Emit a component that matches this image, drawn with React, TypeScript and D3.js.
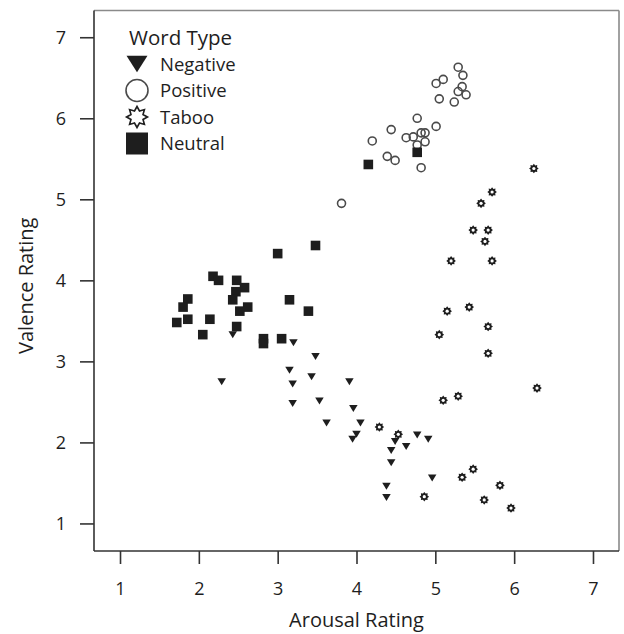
import React, { useEffect, useRef } from 'react';
import * as d3 from 'd3';

// ---- data (arousal, valence) ----
const xTicks = [1, 2, 3, 4, 5, 6, 7];
const yTicks = [1, 2, 3, 4, 5, 6, 7];

const negative: [number, number][] = [
  [2.43, 3.33], [3.2, 3.23], [3.48, 3.06], [3.15, 2.89], [3.43, 2.81],
  [2.29, 2.75], [3.91, 2.75], [3.19, 2.72], [3.19, 2.48], [3.53, 2.51],
  [3.96, 2.42], [3.62, 2.24], [4.05, 2.24], [4.0, 2.1], [3.95, 2.04],
  [4.77, 2.09], [4.91, 2.04], [4.49, 2.01], [4.63, 1.95], [4.44, 1.9],
  [4.44, 1.75], [4.96, 1.56], [4.38, 1.46], [4.38, 1.32],
];

const positive: [number, number][] = [
  [5.29, 6.63], [5.35, 6.53], [5.1, 6.48], [5.01, 6.43], [5.34, 6.39],
  [5.29, 6.33], [5.39, 6.29], [5.05, 6.24], [5.24, 6.2], [4.77, 6.0],
  [5.01, 5.9], [4.44, 5.86], [4.63, 5.76], [4.72, 5.77], [4.82, 5.82],
  [4.87, 5.82], [4.87, 5.71], [4.77, 5.67], [4.2, 5.72], [4.39, 5.53],
  [4.49, 5.48], [4.82, 5.39], [3.81, 4.95],
];

const taboo: [number, number][] = [
  [6.25, 5.38], [5.72, 5.09], [5.58, 4.95], [5.48, 4.62], [5.67, 4.62],
  [5.63, 4.48], [5.2, 4.24], [5.72, 4.24], [5.43, 3.67], [5.15, 3.62],
  [5.67, 3.43], [5.05, 3.33], [5.67, 3.1], [6.29, 2.67], [5.29, 2.57],
  [5.1, 2.52], [5.48, 1.67], [4.29, 2.19], [4.53, 2.1], [5.34, 1.57],
  [5.82, 1.47], [4.86, 1.33], [5.62, 1.29], [5.96, 1.19],
];

const neutral: [number, number][] = [
  [3.0, 4.33], [3.48, 4.43], [2.18, 4.05], [2.25, 4.0], [2.48, 4.0],
  [2.58, 3.91], [2.47, 3.86], [2.43, 3.76], [1.86, 3.77], [3.15, 3.76],
  [2.62, 3.67], [2.52, 3.62], [1.8, 3.67], [3.39, 3.62], [1.72, 3.48],
  [1.86, 3.52], [2.14, 3.52], [2.48, 3.43], [2.05, 3.33], [2.82, 3.28],
  [2.82, 3.22], [3.05, 3.28], [4.15, 5.43], [4.77, 5.58],
];

const legendTitle = 'Word Type';
const legendLabels = ['Negative', 'Positive', 'Taboo', 'Neutral'];

const FONT = '"Open Sans", sans-serif';
const INK = '#1e1e1e';

function starPath(outer: number, inner: number, n: number) {
  const pts: [number, number][] = [];
  for (let i = 0; i < n * 2; i++) {
    const r = i % 2 === 0 ? outer : inner;
    const a = (Math.PI * i) / n - Math.PI / 2;
    pts.push([Math.cos(a) * r, Math.sin(a) * r]);
  }
  return d3.line()(pts) + 'Z';
}

function triPath(w: number, h: number) {
  return `M${-w / 2},${-h / 2}L${w / 2},${-h / 2}L0,${h / 2}Z`;
}

export default function App() {
  const ref = useRef<SVGSVGElement>(null);

  useEffect(() => {
    if (!ref.current) return;
    const svg = d3.select(ref.current);
    svg.selectAll('*').remove();

    const left = 94, right = 619, top = 10.5, bottom = 551;

    const x = d3.scaleLinear().domain([0.67, 7.33]).range([left, right]);
    const y = d3.scaleLinear().domain([0.66, 7.33]).range([bottom, top]);

    // ------- Frame -------
    svg.append('line').attr('x1', left).attr('x2', right).attr('y1', top).attr('y2', top)
      .attr('stroke', '#8a8a8a').attr('stroke-width', 1.6);
    svg.append('line').attr('x1', right).attr('x2', right).attr('y1', top).attr('y2', bottom)
      .attr('stroke', '#8a8a8a').attr('stroke-width', 1.6);
    svg.append('line').attr('x1', left).attr('x2', left).attr('y1', top).attr('y2', bottom)
      .attr('stroke', '#333').attr('stroke-width', 1.6);
    svg.append('line').attr('x1', left).attr('x2', right).attr('y1', bottom).attr('y2', bottom)
      .attr('stroke', '#333').attr('stroke-width', 1.6);

    // ------- Axes -------
    const gx = svg.append('g')
      .attr('transform', `translate(0,${bottom})`)
      .call(d3.axisBottom(x).tickValues(xTicks).tickSize(13).tickPadding(18).tickFormat(d3.format('d')));
    gx.select('.domain').remove();

    const gy = svg.append('g')
      .attr('transform', `translate(${left},0)`)
      .call(d3.axisLeft(y).tickValues(yTicks).tickSize(14).tickPadding(14).tickFormat(d3.format('d')));
    gy.select('.domain').remove();

    svg.selectAll('.tick line').attr('stroke', '#333').attr('stroke-width', 1.6);
    svg.selectAll('.tick text')
      .attr('font-family', FONT).attr('font-size', 18).attr('fill', INK);

    // ------- Axis titles -------
    svg.append('text')
      .attr('x', (left + right) / 2).attr('y', 627)
      .attr('text-anchor', 'middle')
      .attr('font-family', FONT).attr('font-size', 20).attr('fill', INK)
      .text('Arousal Rating');

    svg.append('text')
      .attr('transform', `translate(33,${(top + bottom) / 2 + 5}) rotate(-90)`)
      .attr('text-anchor', 'middle')
      .attr('font-family', FONT).attr('font-size', 20).attr('fill', INK)
      .text('Valence Rating');

    // ------- Points -------
    svg.append('g').selectAll('circle')
      .data(positive).enter().append('circle')
      .attr('cx', (d) => x(d[0])).attr('cy', (d) => y(d[1]))
      .attr('r', 4).attr('fill', 'white').attr('fill-opacity', 0)
      .attr('stroke', '#4a4a4a').attr('stroke-width', 1.6);

    svg.append('g').selectAll('path')
      .data(negative).enter().append('path')
      .attr('transform', (d) => `translate(${x(d[0])},${y(d[1])})`)
      .attr('d', triPath(8.5, 7)).attr('fill', INK);

    const tab = svg.append('g').selectAll('g')
      .data(taboo).enter().append('g')
      .attr('transform', (d) => `translate(${x(d[0])},${y(d[1])})`);
    tab.append('path').attr('d', starPath(4.8, 3.4, 8)).attr('fill', INK);
    tab.append('circle').attr('r', 1.6).attr('fill', 'white');

    svg.append('g').selectAll('rect')
      .data(neutral).enter().append('rect')
      .attr('x', (d) => x(d[0]) - 4.8).attr('y', (d) => y(d[1]) - 4.8)
      .attr('width', 9.6).attr('height', 9.6).attr('fill', INK);

    // ------- Legend -------
    const legend = svg.append('g');
    legend.append('text')
      .attr('x', 129).attr('y', 45)
      .attr('font-family', FONT).attr('font-size', 20.5).attr('fill', INK)
      .text(legendTitle);

    const symX = 137;
    const rowY = [64, 90.5, 117, 143.5];
    legendLabels.forEach((lab, i) => {
      legend.append('text')
        .attr('x', 160).attr('y', rowY[i] + 6.5)
        .attr('font-family', FONT).attr('font-size', 18.5).attr('fill', INK)
        .text(lab);
    });
    legend.append('path')
      .attr('transform', `translate(${symX},${rowY[0]})`)
      .attr('d', triPath(21, 16.5)).attr('fill', INK);
    legend.append('circle')
      .attr('cx', symX).attr('cy', rowY[1]).attr('r', 11)
      .attr('fill', 'none').attr('stroke', '#4a4a4a').attr('stroke-width', 1.6);
    legend.append('path')
      .attr('transform', `translate(${symX},${rowY[2]})`)
      .attr('d', starPath(10.5, 6.5, 8))
      .attr('fill', 'white').attr('stroke', INK).attr('stroke-width', 1.6);
    legend.append('rect')
      .attr('x', symX - 11).attr('y', rowY[3] - 11)
      .attr('width', 22).attr('height', 22).attr('fill', INK);
  }, []);

  return (
    <svg
      ref={ref}
      width={624}
      height={634}
      style={{ position: 'absolute', left: 0, top: 0, background: 'white' }}
    />
  );
}
